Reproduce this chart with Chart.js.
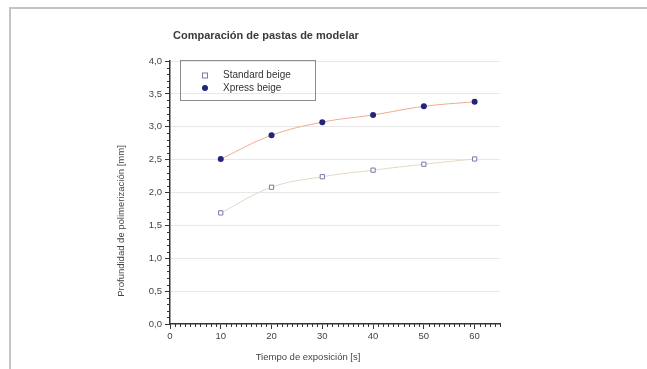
<!DOCTYPE html>
<html>
<head>
<meta charset="utf-8">
<script src="https://cdn.jsdelivr.net/npm/chart.js@4.4.1/dist/chart.umd.min.js"></script>
<style>
    html, body { margin: 0; padding: 0; background: #fff; }
    .frame {
        position: absolute; left: 9px; top: 7px; width: 700px; height: 400px;
        border-left: 2px solid #c4c4c4; border-top: 2px solid #c4c4c4;
    }
    .wrap { position: absolute; left: 0; top: 0; width: 647px; height: 369px; }
</style>
</head>
<body>
<div class="frame"></div>
<div class="wrap"><canvas id="chart" width="647" height="369"></canvas></div>
<script>
(function(){
    "use strict";

    // tiempo de exposición [s]
    var tiempos = [10, 20, 30, 40, 50, 60];
    // profundidad de polimerización [mm]
    var standardBeige = [1.69, 2.08, 2.24, 2.34, 2.43, 2.51];
    var xpressBeige = [2.51, 2.87, 3.07, 3.18, 3.31, 3.38];
    var seriesNames = ["Standard beige", "Xpress beige"];

    var titulo = "Comparación de pastas de modelar";
    var tituloX = "Tiempo de exposición [s]";
    var tituloY = "Profundidad de polimerización [mm]";

    var FONT = "'Liberation Sans', Arial, sans-serif";
    var INK = "#333";

    var toPoints = function(values) {
        var pts = [];
        for(var i = 0; i < tiempos.length; i++) {
            pts.push({x: tiempos[i], y: values[i]});
        }
        return pts;
    };

    var comma = function(v) {
        return v.toFixed(1).replace(".", ",");
    };

    // small ticks between the labelled ones, plus titles and the boxed legend
    var extras = {
        id: "extras",
        afterDraw: function(chart) {
            var ctx = chart.ctx;
            var xs = chart.scales.x, ys = chart.scales.y;
            var area = chart.chartArea;
            var i, p;

            ctx.save();
            ctx.strokeStyle = INK;
            ctx.lineWidth = 1;
            ctx.beginPath();
            for(i = 0; i <= 40; i++) {
                if(i % 5 === 0) continue;
                p = Math.round(ys.getPixelForValue(i / 10)) + 0.5;
                ctx.moveTo(area.left - 3, p);
                ctx.lineTo(area.left, p);
            }
            for(i = 0; i <= 65; i++) {
                if(i % 10 === 0) continue;
                p = Math.round(xs.getPixelForValue(i)) + 0.5;
                ctx.moveTo(p, area.bottom);
                ctx.lineTo(p, area.bottom + 3);
            }
            ctx.stroke();

            // titles
            ctx.fillStyle = "#3a3a3a";
            ctx.textBaseline = "middle";
            ctx.textAlign = "left";
            ctx.font = "bold 11px " + FONT;
            ctx.fillText(titulo, 173, 36);

            ctx.fillStyle = "#444";
            ctx.font = "9.5px " + FONT;
            ctx.textAlign = "center";
            ctx.fillText(tituloX, 308, 357);

            ctx.save();
            ctx.translate(121, 221);
            ctx.rotate(-Math.PI / 2);
            ctx.fillText(tituloY, 0, 0);
            ctx.restore();

            // legend
            ctx.strokeStyle = "#8c8c8c";
            ctx.strokeRect(180.5, 60.5, 135, 40);

            var ly = [75.5, 88];
            ctx.strokeStyle = "#7a7aa8";
            ctx.fillStyle = "#fff";
            ctx.fillRect(202, ly[0] - 3, 6, 6);
            ctx.strokeRect(202.5, ly[0] - 2.5, 5, 5);

            ctx.fillStyle = "#24247a";
            ctx.beginPath();
            ctx.arc(205, ly[1], 3, 0, Math.PI * 2);
            ctx.fill();

            ctx.fillStyle = INK;
            ctx.font = "10px " + FONT;
            ctx.textAlign = "left";
            for(i = 0; i < seriesNames.length; i++) {
                ctx.fillText(seriesNames[i], 223, ly[i]);
            }
            ctx.restore();
        }
    };

    new Chart(document.getElementById("chart"), {
        type: "line",
        data: {
            datasets: [{
                label: seriesNames[0],
                data: toPoints(standardBeige),
                borderColor: "#e4d8c4",
                borderWidth: 1,
                tension: 0.4,
                pointStyle: "rect",
                pointRadius: 3,
                pointBorderWidth: 1,
                pointBorderColor: "#7a7aa8",
                pointBackgroundColor: "#fff"
            }, {
                label: seriesNames[1],
                data: toPoints(xpressBeige),
                borderColor: "#f2a98c",
                borderWidth: 1,
                tension: 0.4,
                pointStyle: "circle",
                pointRadius: 3,
                pointBorderWidth: 0,
                pointBackgroundColor: "#24247a"
            }]
        },
        options: {
            responsive: false,
            animation: false,
            layout: { padding: { top: 61, left: 0, right: 147, bottom: 0 } },
            plugins: {
                legend: { display: false },
                title: { display: false },
                tooltip: { enabled: false }
            },
            scales: {
                x: {
                    type: "linear",
                    min: 0,
                    max: 65,
                    afterBuildTicks: function(s) {
                        s.ticks = s.ticks.filter(function(t){ return t.value <= 60; });
                    },
                    afterFit: function(s) { s.height = 45; },
                    ticks: {
                        stepSize: 10,
                        padding: 2,
                        color: "#444",
                        font: { family: FONT, size: 9.5 }
                    },
                    grid: {
                        drawOnChartArea: false,
                        tickLength: 5,
                        tickColor: INK
                    },
                    border: { color: INK, width: 1.5 }
                },
                y: {
                    min: 0,
                    max: 4,
                    afterFit: function(s) { s.width = 170; },
                    ticks: {
                        stepSize: 0.5,
                        padding: 3,
                        color: "#444",
                        font: { family: FONT, size: 9.5 },
                        callback: function(v) { return comma(v); }
                    },
                    grid: {
                        color: function(c) { return c.tick && c.tick.value === 0 ? "rgba(0,0,0,0)" : "#e8e8e8"; },
                        tickLength: 5,
                        tickColor: INK
                    },
                    border: { color: INK, width: 1.5 }
                }
            }
        },
        plugins: [extras]
    });
})();
</script>
</body>
</html>
